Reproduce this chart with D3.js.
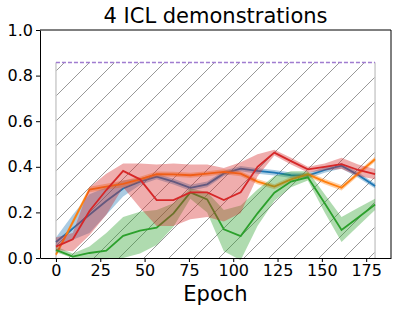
<!DOCTYPE html>
<html>
<head>
<meta charset="utf-8">
<script src="https://cdn.jsdelivr.net/npm/d3@7"></script>
<style>
  body { margin: 0; background: #fff; }
  text { font-family: "DejaVu Sans", sans-serif; }
</style>
</head>
<body>
<div id="chart"></div>
<script>
// data
var epochs = [0, 9.5, 18.9, 28.4, 37.9, 47.4, 56.8, 66.3, 75.8, 85.3, 94.7, 104.2, 113.7, 123.2, 132.6, 142.1, 151.6, 161.1, 170.5, 180];
var xTicks = [0, 25, 50, 75, 100, 125, 150, 175];
var yTicks = [0, 0.2, 0.4, 0.6, 0.8, 1.0];
var ceiling = 0.857;

var blueMean = [0.07, 0.13, 0.19, 0.25, 0.305, 0.335, 0.357, 0.335, 0.308, 0.323, 0.371, 0.392, 0.382, 0.374, 0.363, 0.361, 0.386, 0.405, 0.364, 0.316];
var blueLow  = [0.05, 0.08, 0.11, 0.19, 0.27, 0.32, 0.345, 0.322, 0.295, 0.31, 0.36, 0.38, 0.37, 0.362, 0.351, 0.349, 0.374, 0.393, 0.352, 0.305];
var blueHigh = [0.09, 0.19, 0.28, 0.31, 0.34, 0.35, 0.37, 0.348, 0.321, 0.336, 0.383, 0.404, 0.394, 0.386, 0.375, 0.373, 0.398, 0.417, 0.376, 0.327];

var orangeMean = [0.015, 0.157, 0.30, 0.313, 0.325, 0.345, 0.368, 0.367, 0.363, 0.37, 0.378, 0.37, 0.335, 0.313, 0.345, 0.367, 0.335, 0.308, 0.371, 0.433];
var orangeLow  = [0.005, 0.145, 0.288, 0.3, 0.31, 0.334, 0.357, 0.356, 0.352, 0.359, 0.367, 0.359, 0.324, 0.302, 0.334, 0.356, 0.324, 0.296, 0.36, 0.422];
var orangeHigh = [0.025, 0.17, 0.312, 0.326, 0.34, 0.356, 0.379, 0.378, 0.374, 0.381, 0.389, 0.381, 0.346, 0.324, 0.356, 0.378, 0.346, 0.32, 0.382, 0.444];

var greenMean = [0.036, 0.006, 0.022, 0.032, 0.097, 0.12, 0.133, 0.196, 0.288, 0.257, 0.126, 0.096, 0.196, 0.286, 0.335, 0.354, 0.24, 0.123, 0.178, 0.235];
var greenLow  = [0.025, 0.0, -0.005, -0.005, 0.0, 0.02, 0.057, 0.137, 0.26, 0.2, 0.03, -0.01, 0.14, 0.25, 0.31, 0.34, 0.2, 0.07, 0.14, 0.21];
var greenHigh = [0.05, 0.02, 0.05, 0.11, 0.18, 0.203, 0.21, 0.24, 0.305, 0.29, 0.21, 0.23, 0.3, 0.36, 0.38, 0.38, 0.28, 0.18, 0.22, 0.26];

var redMean = [0.05, 0.082, 0.206, 0.298, 0.382, 0.345, 0.254, 0.254, 0.288, 0.288, 0.254, 0.288, 0.40, 0.462, 0.425, 0.389, 0.40, 0.412, 0.386, 0.368];
var redLow  = [0.035, 0.03, 0.10, 0.19, 0.31, 0.22, 0.14, 0.14, 0.17, 0.18, 0.16, 0.197, 0.357, 0.45, 0.41, 0.375, 0.385, 0.39, 0.36, 0.345];
var redHigh = [0.09, 0.11, 0.31, 0.37, 0.415, 0.415, 0.41, 0.415, 0.41, 0.41, 0.395, 0.42, 0.455, 0.475, 0.44, 0.40, 0.415, 0.44, 0.41, 0.39];

var colors = ["#1f77b4", "#ff7f0e", "#2ca02c", "#d62728"];

var series = [
  { mean: blueMean, low: blueLow, high: blueHigh },
  { mean: orangeMean, low: orangeLow, high: orangeHigh },
  { mean: greenMean, low: greenLow, high: greenHigh },
  { mean: redMean, low: redLow, high: redHigh }
];

  // svg params
var svgWidth = 399;
var svgHeight = 313;

var margin = { top: 30, right: 8, bottom: 55, left: 40 };
var chartWidth = svgWidth - margin.left - margin.right;
var chartHeight = svgHeight - margin.top - margin.bottom;

var svg = d3.select("#chart")
  .append("svg")
  .attr("width", svgWidth)
  .attr("height", svgHeight);

// hatch pattern for the shaded ceiling area
var defs = svg.append("defs");
var pat = defs.append("pattern")
  .attr("id", "hatch")
  .attr("patternUnits", "userSpaceOnUse")
  .attr("width", 25)
  .attr("height", 25)
  .attr("x", 7)
  .attr("y", 0);
pat.append("path")
  .attr("d", "M-2,2 L2,-2 M0,25 L25,0 M23,27 L27,23")
  .attr("stroke", "#8c8c8c")
  .attr("stroke-width", 0.9);

var chartGroup = svg.append("g")
  .attr("transform", `translate(${margin.left}, ${margin.top})`);

var xScale = d3.scaleLinear()
  .domain([-9, 189])
  .range([0, chartWidth]);

var yScale = d3.scaleLinear()
  .domain([0, 1])
  .range([chartHeight, 0]);

// hatched region
var x0 = xScale(epochs[0]);
var x1 = xScale(epochs[epochs.length - 1]);
chartGroup.append("rect")
  .attr("x", x0)
  .attr("y", yScale(ceiling))
  .attr("width", x1 - x0)
  .attr("height", yScale(0) - yScale(ceiling))
  .attr("fill", "url(#hatch)");

chartGroup.append("line")
  .attr("x1", x0).attr("x2", x0)
  .attr("y1", yScale(0)).attr("y2", yScale(ceiling))
  .attr("stroke", "#cccccc")
  .attr("stroke-width", 1.5);
chartGroup.append("line")
  .attr("x1", x1).attr("x2", x1)
  .attr("y1", yScale(0)).attr("y2", yScale(ceiling))
  .attr("stroke", "#cccccc")
  .attr("stroke-width", 1.5);

// dashed ceiling line
chartGroup.append("line")
  .attr("x1", x0).attr("x2", x1)
  .attr("y1", yScale(ceiling)).attr("y2", yScale(ceiling))
  .attr("stroke", "#a07cd0")
  .attr("stroke-width", 1.5)
  .attr("stroke-dasharray", "4,2");

var area = d3.area()
  .x((d, i) => xScale(epochs[i]))
  .y0(d => yScale(d[0]))
  .y1(d => yScale(d[1]));

var line = d3.line()
  .x((d, i) => xScale(epochs[i]))
  .y(d => yScale(d));

var plotArea = chartGroup.append("g");

series.forEach(function(s, k) {
  var band = s.low.map((v, i) => [v, s.high[i]]);
  plotArea.append("path")
    .attr("d", area(band))
    .attr("fill", colors[k])
    .attr("opacity", 0.38);
  plotArea.append("path")
    .attr("d", line(s.mean))
    .attr("fill", "none")
    .attr("stroke", colors[k])
    .attr("stroke-width", 1.8);
});

// axes
var xAxis = d3.axisBottom(xScale).tickValues(xTicks).tickSize(4).tickPadding(3).tickSizeOuter(0);
var yAxis = d3.axisLeft(yScale).tickValues(yTicks).tickSize(4).tickPadding(3).tickSizeOuter(0).tickFormat(d3.format(".1f"));

var gx = chartGroup.append("g")
  .attr("transform", `translate(0, ${chartHeight})`)
  .call(xAxis);
var gy = chartGroup.append("g")
  .call(yAxis);

[gx, gy].forEach(function(g) {
  g.selectAll("text").style("font-size", "16px").attr("fill", "#000");
  g.selectAll("line").attr("stroke", "#000");
  g.select(".domain").attr("stroke", "#000");
});

// top and right spines
chartGroup.append("line")
  .attr("x1", 0).attr("x2", chartWidth)
  .attr("y1", 0).attr("y2", 0)
  .attr("stroke", "#000");
chartGroup.append("line")
  .attr("x1", chartWidth).attr("x2", chartWidth)
  .attr("y1", 0).attr("y2", chartHeight)
  .attr("stroke", "#000");

// title and axis label
svg.append("text")
  .attr("x", margin.left + chartWidth / 2)
  .attr("y", 23)
  .attr("text-anchor", "middle")
  .style("font-size", "21px")
  .text("4 ICL demonstrations");

svg.append("text")
  .attr("x", margin.left + chartWidth / 2)
  .attr("y", 301)
  .attr("text-anchor", "middle")
  .style("font-size", "21px")
  .text("Epoch");
</script>
</body>
</html>
